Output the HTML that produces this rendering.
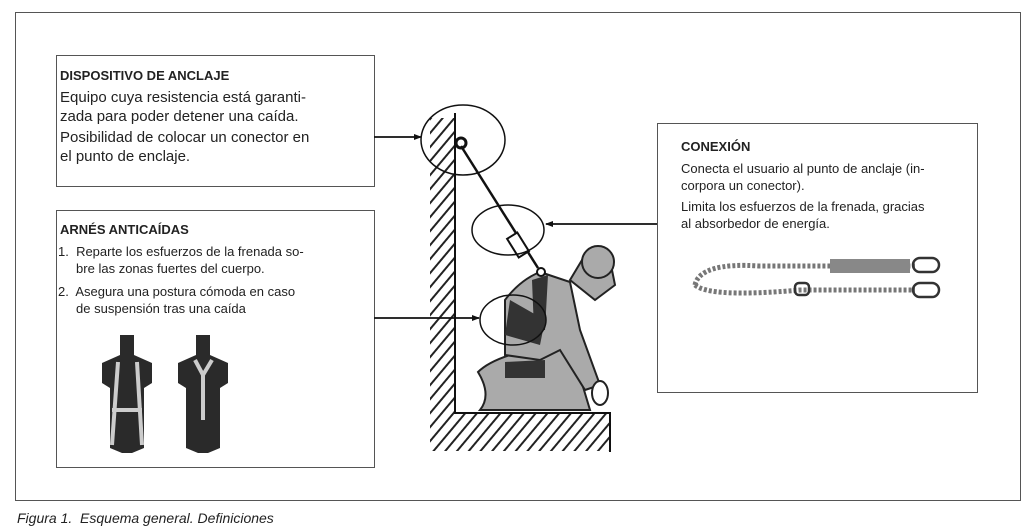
<!DOCTYPE html>
<html><head><meta charset="utf-8"><style>
body{margin:0;width:1027px;height:532px;background:#fff;position:relative;font-family:"Liberation Sans",sans-serif;color:#222;overflow:hidden}
.frame{position:absolute;left:15px;top:12px;width:1004px;height:487px;border:1px solid #555}
.box{position:absolute;border:1px solid #555;background:#fff}
.t{position:absolute;font-size:14px;line-height:19px}
.h{font-weight:bold;font-size:13px}
.cap{position:absolute;left:17px;top:510px;font-style:italic;font-size:14px}
</style></head><body>
<div class="frame"></div>
<div class="box" style="left:56px;top:55px;width:317px;height:130px"></div>
<div class="t h" style="left:60px;top:66px">DISPOSITIVO DE ANCLAJE</div>
<div class="t" style="left:60px;top:88px;font-size:15px;line-height:19px">Equipo cuya resistencia está garanti-<br>zada para poder detener una caída.</div>
<div class="t" style="left:60px;top:128px;font-size:15px;line-height:19px">Posibilidad de colocar un conector en<br>el punto de enclaje.</div>
<div class="box" style="left:56px;top:210px;width:317px;height:256px"></div>
<div class="t h" style="left:60px;top:220px">ARNÉS ANTICAÍDAS</div>
<div class="t" style="left:58px;top:243px;font-size:13px;line-height:17px">1.&nbsp; Reparte los esfuerzos de la frenada so-<br>&nbsp;&nbsp;&nbsp;&nbsp; bre las zonas fuertes del cuerpo.</div>
<div class="t" style="left:58px;top:283px;font-size:13px;line-height:17px">2.&nbsp; Asegura una postura cómoda en caso<br>&nbsp;&nbsp;&nbsp;&nbsp; de suspensión tras una caída</div>
<div class="box" style="left:657px;top:123px;width:319px;height:268px"></div>
<div class="t h" style="left:681px;top:137px">CONEXIÓN</div>
<div class="t" style="left:681px;top:160px;font-size:13px;line-height:17px">Conecta el usuario al punto de anclaje (in-<br>corpora un conector).</div>
<div class="t" style="left:681px;top:198px;font-size:13px;line-height:17px">Limita los esfuerzos de la frenada, gracias<br>al absorbedor de energía.</div>
<div class="cap">Figura 1.&nbsp; Esquema general. Definiciones</div>
<svg width="1027" height="532" style="position:absolute;left:0;top:0">
<defs><pattern id="hp" width="9" height="9" patternUnits="userSpaceOnUse" patternTransform="rotate(40)"><rect width="2" height="9" fill="#222"/></pattern>
<marker id="ar" markerWidth="8" markerHeight="6" refX="7" refY="3" orient="auto" markerUnits="userSpaceOnUse"><path d="M0,0L8,3L0,6z" fill="#111"/></marker></defs>
<rect x="430" y="118" width="25" height="295" fill="url(#hp)"/>
<rect x="430" y="413" width="180" height="38" fill="url(#hp)"/>
<polyline points="455,113 455,413 610,413 610,452" fill="none" stroke="#111" stroke-width="2"/>
<g fill="#aaa" stroke="#222" stroke-width="2">
<path d="M478,372 Q490,360 520,352 L555,345 L575,360 L590,410 L480,410 Q492,395 478,372z"/>
<path d="M505,300 Q520,280 540,272 L570,282 L580,330 L600,385 L585,390 L560,350 L540,360 L505,355z"/>
<path d="M570,280 L585,255 L610,260 L615,285 L595,300z"/>
<circle cx="598" cy="262" r="16"/>
<ellipse cx="600" cy="393" rx="8" ry="12" fill="#fff"/>
</g>
<path d="M510,300 L545,320 L540,345 L505,335z M532,280 L548,275 L545,330 L534,330z" fill="#333"/>
<path d="M505,362 L545,360 L545,378 L505,378z" fill="#333"/>
<line x1="461" y1="146" x2="538" y2="268" stroke="#111" stroke-width="2.5"/>
<rect x="512" y="234" width="12" height="22" fill="#fff" stroke="#111" stroke-width="2" transform="rotate(-32 518 245)"/>
<circle cx="461" cy="143" r="5" fill="none" stroke="#111" stroke-width="3"/>
<circle cx="541" cy="272" r="4" fill="#fff" stroke="#111" stroke-width="2"/>
<g fill="none" stroke="#111" stroke-width="1.5">
<ellipse cx="463" cy="140" rx="42" ry="35"/>
<ellipse cx="508" cy="230" rx="36" ry="25"/>
<ellipse cx="513" cy="320" rx="33" ry="25"/>
</g>
<g stroke="#111" stroke-width="1.8" marker-end="url(#ar)">
<line x1="374" y1="137" x2="421" y2="137"/>
<line x1="657" y1="224" x2="546" y2="224"/>
<line x1="374" y1="318" x2="479" y2="318"/>
</g>
<g fill="#2a2a2a"><path d="M120,335 h14 v20 l18,8 v20 l-8,5 v60 l-12,5 h-10 l-12,-5 v-60 l-8,-5 v-20 l18,-8z"/>
<path d="M196,335 h14 v20 l18,8 v20 l-8,5 v60 l-12,5 h-10 l-12,-5 v-60 l-8,-5 v-20 l18,-8z"/></g>
<g stroke="#ccc" stroke-width="4" fill="none"><path d="M118,362 L112,445 M137,362 L142,445 M112,410 L142,410"/><path d="M195,360 L203,375 L212,360 M203,375 L203,420"/></g>
<g fill="none" stroke="#777" stroke-width="5" stroke-dasharray="3 2"><path d="M695,285 Q700,262 760,266 L915,266"/><path d="M695,285 Q710,298 800,290 L915,290"/></g>
<rect x="830" y="259" width="80" height="14" fill="#888"/>
<g fill="none" stroke="#333" stroke-width="2.5"><rect x="913" y="258" width="26" height="14" rx="7"/><rect x="913" y="283" width="26" height="14" rx="7"/><rect x="795" y="283" width="14" height="12" rx="4"/></g>
</svg>
</body></html>
